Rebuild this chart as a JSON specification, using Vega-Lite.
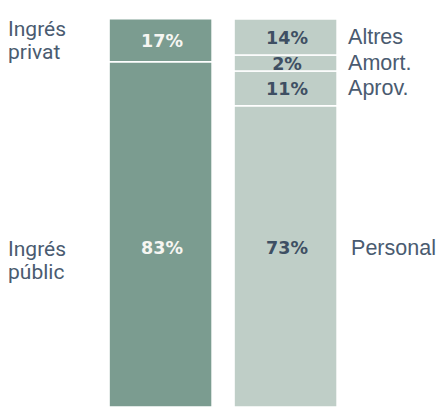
{
  "$schema": "https://vega.github.io/schema/vega-lite/v6.json",
  "width": 441,
  "height": 408,
  "padding": 0,
  "autosize": {"type": "fit", "contains": "padding"},
  "config": {"view": {"stroke": null}},
  "data": {
    "values": [
      {"side": "Ingressos", "cat": "Ingrés públic", "pct": "83%", "shown": 135.7, "ord": 1, "bottom": true},
      {"side": "Ingressos", "cat": "Ingrés privat", "pct": "17%", "shown": 16.9, "ord": 2, "bottom": false},
      {"side": "Despeses", "cat": "Personal", "pct": "73%", "shown": 118.4, "ord": 1, "bottom": true},
      {"side": "Despeses", "cat": "Aprov.", "pct": "11%", "shown": 13.7, "ord": 2, "bottom": false},
      {"side": "Despeses", "cat": "Amort.", "pct": "2%", "shown": 6.3, "ord": 3, "bottom": false},
      {"side": "Despeses", "cat": "Altres", "pct": "14%", "shown": 14.1, "ord": 4, "bottom": false}
    ]
  },
  "transform": [
    {"stack": "shown", "groupby": ["side"], "sort": [{"field": "ord", "order": "ascending"}], "as": ["y0", "y1"]},
    {"calculate": "(datum.y0 + datum.y1) / 2", "as": "mid"}
  ],
  "encoding": {
    "x": {
      "field": "side",
      "type": "nominal",
      "axis": null,
      "scale": {"domain": ["Ingressos", "Despeses"], "paddingInner": 0.176, "paddingOuter": 0.852, "align": 0.512}
    }
  },
  "layer": [
    {
      "mark": {"type": "bar", "stroke": "#ffffff", "strokeWidth": 1.5},
      "encoding": {
        "y": {"field": "y0", "type": "quantitative", "axis": null, "scale": {"domain": [0, 160], "nice": false, "zero": true}},
        "y2": {"field": "y1"},
        "color": {"field": "side", "type": "nominal", "legend": null, "scale": {"domain": ["Ingressos", "Despeses"], "range": ["#7b9c90", "#bfcec7"]}}
      }
    },
    {
      "transform": [{"filter": "!datum.bottom"}],
      "mark": {"type": "text", "font": "DejaVu Sans", "fontWeight": "bold", "fontSize": 17.5, "baseline": "middle", "dy": 2, "dx": 1.5},
      "encoding": {
        "y": {"field": "mid", "type": "quantitative"},
        "text": {"field": "pct"},
        "color": {"condition": {"test": "datum.side === 'Ingressos'", "value": "#f6f6f2"}, "value": "#3e4f63"}
      }
    },
    {
      "transform": [{"filter": "datum.bottom"}],
      "mark": {"type": "text", "font": "DejaVu Sans", "fontWeight": "bold", "fontSize": 17.5, "baseline": "middle", "dy": 1, "dx": 1.5},
      "encoding": {
        "y": {"datum": 62.4, "type": "quantitative"},
        "text": {"field": "pct"},
        "color": {"condition": {"test": "datum.side === 'Ingressos'", "value": "#f6f6f2"}, "value": "#3e4f63"}
      }
    },
    {
      "transform": [{"filter": "datum.side === 'Ingressos' && !datum.bottom"}],
      "mark": {"type": "text", "font": "Roboto", "fontSize": 21, "align": "left", "baseline": "middle", "lineBreak": " ", "lineHeight": 23.5, "dx": -152.5, "dy": -10.5, "color": "#4a5b70"},
      "encoding": {
        "y": {"field": "mid", "type": "quantitative"},
        "text": {"field": "cat"}
      }
    },
    {
      "transform": [{"filter": "datum.side === 'Ingressos' && datum.bottom"}],
      "mark": {"type": "text", "font": "Roboto", "fontSize": 21, "align": "left", "baseline": "middle", "lineBreak": " ", "lineHeight": 23.5, "dx": -152.5, "dy": -10.5, "color": "#4a5b70"},
      "encoding": {
        "y": {"datum": 57.6, "type": "quantitative"},
        "text": {"field": "cat"}
      }
    },
    {
      "transform": [{"filter": "datum.side === 'Despeses' && !datum.bottom"}],
      "mark": {"type": "text", "font": "Liberation Sans", "fontSize": 21.5, "align": "left", "baseline": "middle", "dx": 62.5, "dy": 1, "color": "#4a5b70"},
      "encoding": {
        "y": {"field": "mid", "type": "quantitative"},
        "text": {"field": "cat"}
      }
    },
    {
      "transform": [{"filter": "datum.side === 'Despeses' && datum.bottom"}],
      "mark": {"type": "text", "font": "Liberation Sans", "fontSize": 21.5, "align": "left", "baseline": "middle", "dx": 65.5, "dy": 1, "color": "#4a5b70"},
      "encoding": {
        "y": {"datum": 62.4, "type": "quantitative"},
        "text": {"field": "cat"}
      }
    }
  ]
}
